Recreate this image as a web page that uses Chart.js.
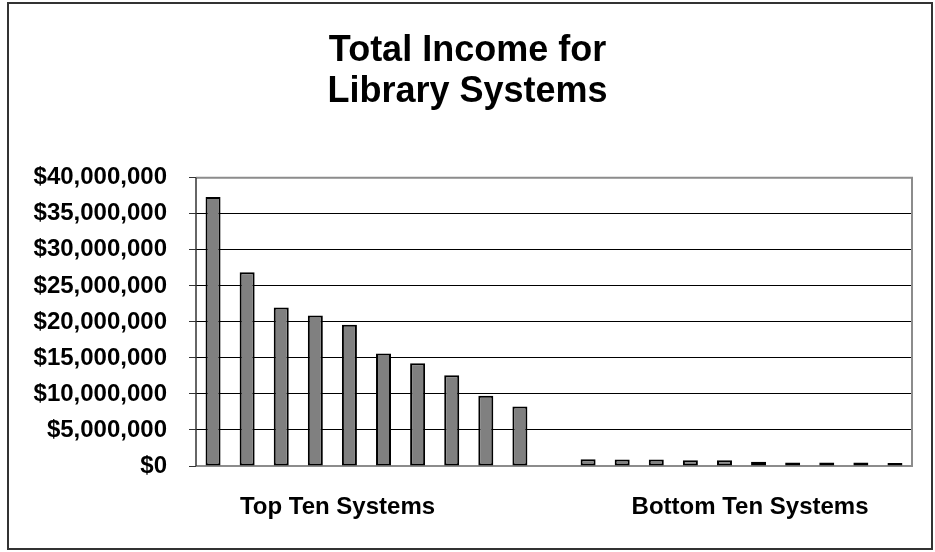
<!DOCTYPE html>
<html>
<head>
<meta charset="utf-8">
<title>Total Income for Library Systems</title>
<script src="https://cdn.jsdelivr.net/npm/chart.js@4.4.1/dist/chart.umd.min.js"></script>
<style>
  html, body { margin: 0; padding: 0; background: #fff; }
  #wrap { position: relative; width: 935px; height: 552px; }
</style>
</head>
<body>
<div id="wrap"><canvas id="incomeChart" width="935" height="552"></canvas></div>
<script>
// income per system, top ten then bottom ten, with an empty slot between the groups
const systems = [
  "T1", "T2", "T3", "T4", "T5", "T6", "T7", "T8", "T9", "T10",
  "",
  "B1", "B2", "B3", "B4", "B5", "B6", "B7", "B8", "B9", "B10"
];
const topTen = [37350000, 26900000, 22000000, 20900000, 19600000, 15600000, 14250000, 12600000, 9750000, 8250000];
const bottomTen = [950000, 900000, 900000, 800000, 800000, 600000, 500000, 500000, 500000, 400000];
const groupNames = ["Top Ten Systems", "Bottom Ten Systems"];
const yTicks = [0, 5000000, 10000000, 15000000, 20000000, 25000000, 30000000, 35000000, 40000000];

const income = topTen.concat([null], bottomTen);
const FONT = "'Liberation Sans', Arial, sans-serif";

function money(v) {
  return "$" + Number(v).toLocaleString("en-US");
}

// outer frame + grey plot frame
const framePlugin = {
  id: "frames",
  beforeDraw(chart) {
    const c = chart.ctx;
    c.save();
    c.strokeStyle = "#333";
    c.lineWidth = 2;
    c.strokeRect(8, 3, 924, 546);
    c.restore();
  },
  beforeDatasetsDraw(chart) {
    const a = chart.chartArea;
    const c = chart.ctx;
    c.save();
    c.strokeStyle = "#8c8c8c";
    c.lineWidth = 2;
    c.beginPath();
    c.moveTo(a.left, a.top);
    c.lineTo(a.right, a.top);
    c.lineTo(a.right, a.bottom);
    c.lineTo(a.left, a.bottom);
    c.stroke();
    c.strokeStyle = "#333";
    c.lineWidth = 1.5;
    c.beginPath();
    c.moveTo(a.left, a.top);
    c.lineTo(a.left, a.bottom);
    c.stroke();
    c.restore();
  }
};

// group names under each block of bars
const groupLabels = {
  id: "groupLabels",
  afterDraw(chart) {
    const x = chart.scales.x;
    const c = chart.ctx;
    const centers = [3.65, 15.75];
    c.save();
    c.font = "bold 24px " + FONT;
    c.fillStyle = "#000";
    c.textAlign = "center";
    c.textBaseline = "middle";
    groupNames.forEach((name, i) => {
      c.fillText(name, x.getPixelForValue(centers[i]), 507);
    });
    c.restore();
  }
};

new Chart(document.getElementById("incomeChart"), {
  type: "bar",
  data: {
    labels: systems,
    datasets: [{
      data: income,
      backgroundColor: "#808080",
      borderColor: "#000",
      borderWidth: 2,
      borderSkipped: false,
      categoryPercentage: 1,
      barPercentage: 0.44
    }]
  },
  options: {
    responsive: false,
    animation: false,
    layout: { padding: { left: 23, right: 23, top: 0, bottom: 86 } },
    plugins: {
      legend: { display: false },
      tooltip: { enabled: false },
      title: {
        display: true,
        text: ["Total Income for", "Library Systems"],
        color: "#000",
        font: { family: FONT, size: 36, weight: "bold", lineHeight: 1.15 },
        padding: { top: 30, bottom: 65 }
      }
    },
    scales: {
      x: {
        grid: { display: false, drawTicks: false },
        border: { display: false },
        ticks: { display: false }
      },
      y: {
        min: 0,
        max: 40000000,
        afterBuildTicks(s) { s.ticks = yTicks.map(v => ({ value: v })); },
        afterFit(s) { s.width = 173; },
        border: { display: false },
        grid: {
          color: (ctx) => (ctx.tick && (ctx.tick.value === 0 || ctx.tick.value === 40000000)) ? "rgba(0,0,0,0)" : "#000",
          tickColor: "#333",
          tickLength: 7,
          lineWidth: 1
        },
        ticks: {
          color: "#000",
          padding: 22,
          font: { family: FONT, size: 24, weight: "bold" },
          callback: (v) => money(v)
        }
      }
    }
  },
  plugins: [framePlugin, groupLabels]
});
</script>
</body>
</html>
